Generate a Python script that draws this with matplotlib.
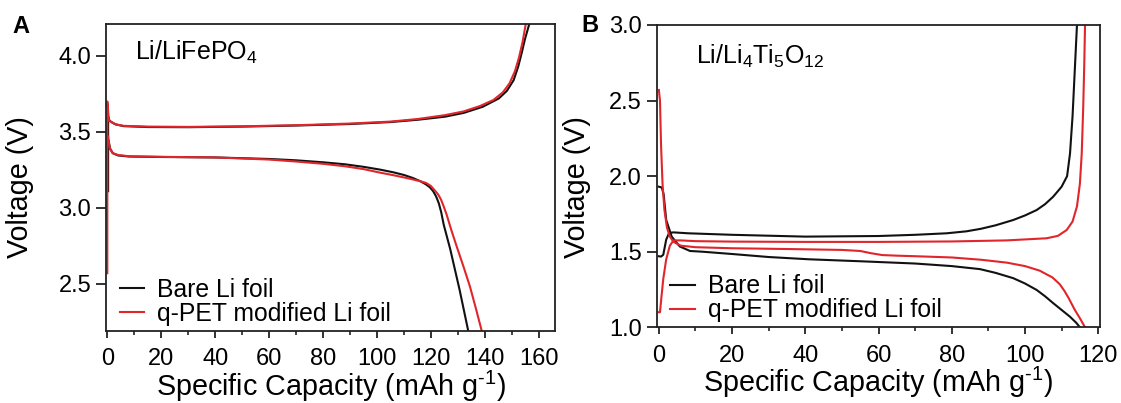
import matplotlib
matplotlib.use("Agg")
import matplotlib.pyplot as plt
from matplotlib.ticker import MultipleLocator, FormatStrFormatter

plt.rcParams["font.family"] = ["Liberation Sans", "DejaVu Sans"]
plt.rcParams["mathtext.fontset"] = "custom"
plt.rcParams["mathtext.rm"] = "Liberation Sans"
plt.rcParams["mathtext.it"] = "Liberation Sans:italic"
plt.rcParams["mathtext.default"] = "regular"

BLACK = "#111111"
RED = "#e0262b"

# ---- Li/LiFePO4 cell: charge and discharge profiles ----
lfp_bare_chg_cap = [0.3, 0.3, 0.8, 1.5, 3, 6, 15, 30, 50, 70, 90, 105, 115, 125,
                    132, 139, 145, 148, 150.5, 152.2, 153.5, 154.7, 156.3]
lfp_bare_chg_v = [3.11, 3.60, 3.575, 3.565, 3.55, 3.538, 3.532, 3.531, 3.535, 3.542,
                  3.552, 3.565, 3.58, 3.60, 3.625, 3.665, 3.72, 3.77, 3.84, 3.93,
                  4.02, 4.11, 4.21]
lfp_pet_chg_cap = [0.0, 0.0, 0.6, 1.5, 3, 6, 15, 30, 50, 70, 90, 105, 115, 125,
                   132, 138, 143, 146.5, 149, 151, 152.5, 153.8, 155.0]
lfp_pet_chg_v = [2.57, 3.70, 3.575, 3.565, 3.55, 3.54, 3.535, 3.533, 3.537, 3.544,
                 3.555, 3.568, 3.585, 3.61, 3.635, 3.67, 3.71, 3.76, 3.82, 3.90,
                 3.99, 4.09, 4.21]
lfp_bare_dis_cap = [0.5, 1.0, 2, 4, 8, 20, 40, 60, 70, 80, 88, 95, 101, 106, 110,
                    113.3, 116, 118, 119.5, 120.7, 121.8, 122.8, 123.7, 124.6, 127,
                    130.5, 133.7]
lfp_bare_dis_v = [3.44, 3.39, 3.36, 3.345, 3.338, 3.335, 3.332, 3.322, 3.313, 3.30,
                  3.287, 3.27, 3.252, 3.234, 3.216, 3.196, 3.175, 3.155, 3.135, 3.11,
                  3.075, 3.03, 2.97, 2.89, 2.73, 2.46, 2.19]
lfp_pet_dis_cap = [0.3, 0.8, 2, 4, 8, 20, 40, 60, 70, 80, 88, 95, 101, 106, 110,
                   113, 116, 118.1, 119.8, 121.3, 122.6, 123.6, 124.6, 125.7, 127.5,
                   129.4, 132, 134.3, 136.5, 138.7]
lfp_pet_dis_v = [3.47, 3.40, 3.36, 3.348, 3.34, 3.336, 3.332, 3.318, 3.305, 3.29,
                 3.274, 3.255, 3.232, 3.215, 3.20, 3.188, 3.175, 3.164, 3.145, 3.115,
                 3.087, 3.055, 3.01, 2.955, 2.85, 2.747, 2.61, 2.484, 2.34, 2.19]

# ---- Li/Li4Ti5O12 cell: charge and discharge profiles ----
lto_bare_chg_cap = [0, 0.6, 1.2, 2, 2.8, 4, 8, 20, 40, 60, 70, 78.6, 84, 88, 92,
                    96.8, 100, 103.2, 105.5, 107.7, 110, 111.5, 112.3, 113, 113.6, 114.2]
lto_bare_chg_v = [1.47, 1.468, 1.48, 1.58, 1.625, 1.628, 1.622, 1.612, 1.60, 1.604,
                  1.612, 1.622, 1.635, 1.652, 1.675, 1.71, 1.74, 1.776, 1.815,
                  1.864, 1.93, 2.0, 2.15, 2.4, 2.7, 3.0]
lto_bare_dis_cap = [0, 0.8, 1.3, 2, 3.5, 5.7, 8.5, 12, 20, 30, 41, 55, 70, 80, 87.7,
                    92, 96.8, 100, 103.2, 105.5, 107.7, 110, 112.3, 114, 115]
lto_bare_dis_v = [1.93, 1.925, 1.88, 1.71, 1.60, 1.535, 1.505, 1.50, 1.485, 1.465,
                  1.45, 1.437, 1.422, 1.405, 1.385, 1.36, 1.325, 1.29, 1.247, 1.205,
                  1.16, 1.115, 1.07, 1.03, 1.0]
lto_pet_chg_cap = [0, 0.3, 0.7, 1.2, 2, 3, 4, 6, 10, 20, 40, 60, 80, 95, 105.9,
                   109, 111.4, 113, 114.2, 115, 115.5, 115.9, 116.2, 116.4]
lto_pet_chg_v = [1.10, 1.10, 1.2, 1.32, 1.45, 1.54, 1.575, 1.575, 1.57, 1.567,
                 1.565, 1.565, 1.568, 1.575, 1.589, 1.605, 1.644, 1.70, 1.80, 1.95,
                 2.15, 2.45, 2.75, 3.0]
lto_pet_dis_cap = [0, 0.3, 0.6, 1, 1.5, 2.2, 3, 4, 6, 10, 20, 35, 50, 55, 58, 61,
                   65, 70.5, 80, 88, 95, 100, 104, 107.5, 109.5, 110.8, 112, 113.5,
                   115, 116.4]
lto_pet_dis_v = [2.57, 2.50, 2.2, 1.95, 1.78, 1.66, 1.60, 1.565, 1.54, 1.53, 1.523,
                 1.518, 1.512, 1.505, 1.49, 1.478, 1.474, 1.47, 1.462, 1.447, 1.428,
                 1.405, 1.375, 1.33, 1.285, 1.24, 1.19, 1.12, 1.06, 1.0]

legend_labels = ["Bare Li foil", "q-PET modified Li foil"]
xlabel = r"Specific Capacity (mAh g$^{\text{-}1}$)"
ylabel = "Voltage (V)"

fig = plt.figure(figsize=(11.21, 4.03), dpi=100)
ax_a = fig.add_axes([0.0943, 0.1787, 0.4012, 0.7617])
ax_b = fig.add_axes([0.5858, 0.1878, 0.3955, 0.7502])

LW = 1.5
TICK_FS = 17
LABEL_FS = 20.7
for ax in (ax_a, ax_b):
    for s in ax.spines.values():
        s.set_linewidth(1.3)
        s.set_color("#222222")
    ax.tick_params(axis="both", which="major", direction="out", width=1.3,
                   labelsize=TICK_FS, color="#222222")
    ax.tick_params(axis="x", which="major", length=5, pad=7.5)
    ax.tick_params(axis="y", which="major", length=7, pad=3.5)
    ax.tick_params(axis="x", which="minor", direction="out", length=2.6, width=1.2,
                   color="#222222")
    ax.xaxis.set_minor_locator(MultipleLocator(10))
    ax.set_xlabel(xlabel, fontsize=LABEL_FS, labelpad=-1)
    ax.set_ylabel(ylabel, fontsize=LABEL_FS)

# Panel A
ax_a.plot(lfp_bare_chg_cap, lfp_bare_chg_v, color=BLACK, lw=LW, label=legend_labels[0])
ax_a.plot(lfp_bare_dis_cap, lfp_bare_dis_v, color=BLACK, lw=LW)
ax_a.plot(lfp_pet_chg_cap, lfp_pet_chg_v, color=RED, lw=LW, label=legend_labels[1])
ax_a.plot(lfp_pet_dis_cap, lfp_pet_dis_v, color=RED, lw=LW)
ax_a.set_xlim(-0.6, 166)
ax_a.set_ylim(2.19, 4.21)
ax_a.xaxis.set_major_locator(MultipleLocator(20))
ax_a.set_yticks([2.5, 3.0, 3.5, 4.0])
ax_a.yaxis.set_major_formatter(FormatStrFormatter("%.1f"))
ax_a.text(0.065, 0.885, r"Li/LiFePO$_4$", transform=ax_a.transAxes,
          fontsize=18, va="baseline", ha="left")

# Panel B
ax_b.plot(lto_bare_chg_cap, lto_bare_chg_v, color=BLACK, lw=LW, label=legend_labels[0])
ax_b.plot(lto_bare_dis_cap, lto_bare_dis_v, color=BLACK, lw=LW)
ax_b.plot(lto_pet_chg_cap, lto_pet_chg_v, color=RED, lw=LW, label=legend_labels[1])
ax_b.plot(lto_pet_dis_cap, lto_pet_dis_v, color=RED, lw=LW)
ax_b.set_xlim(-0.6, 120.5)
ax_b.set_ylim(1.0, 3.0)
ax_b.xaxis.set_major_locator(MultipleLocator(20))
ax_b.set_yticks([1.0, 1.5, 2.0, 2.5, 3.0])
ax_b.yaxis.set_major_formatter(FormatStrFormatter("%.1f"))
ax_b.text(0.088, 0.87, r"Li/Li$_4$Ti$_5$O$_{12}$", transform=ax_b.transAxes,
          fontsize=18, va="baseline", ha="left")

for ax in (ax_a, ax_b):
    ax.legend(loc="lower left", bbox_to_anchor=(0.02, 0.0), frameon=False,
              fontsize=17.8, handlelength=1.0, handletextpad=0.5,
              labelspacing=0.0, borderpad=0.2, borderaxespad=0.0)

ax_a.yaxis.set_label_coords(-0.159, 0.47)
ax_b.yaxis.set_label_coords(-0.148, 0.465)

fig.text(20.5 / 1121, 1 - 33.3 / 403, "A", fontsize=17, fontweight="bold",
         ha="center", va="baseline")
fig.text(589.5 / 1121, 1 - 32 / 403, "B", fontsize=17, fontweight="bold",
         ha="center", va="baseline")

fig.savefig("out.png", dpi=100)
